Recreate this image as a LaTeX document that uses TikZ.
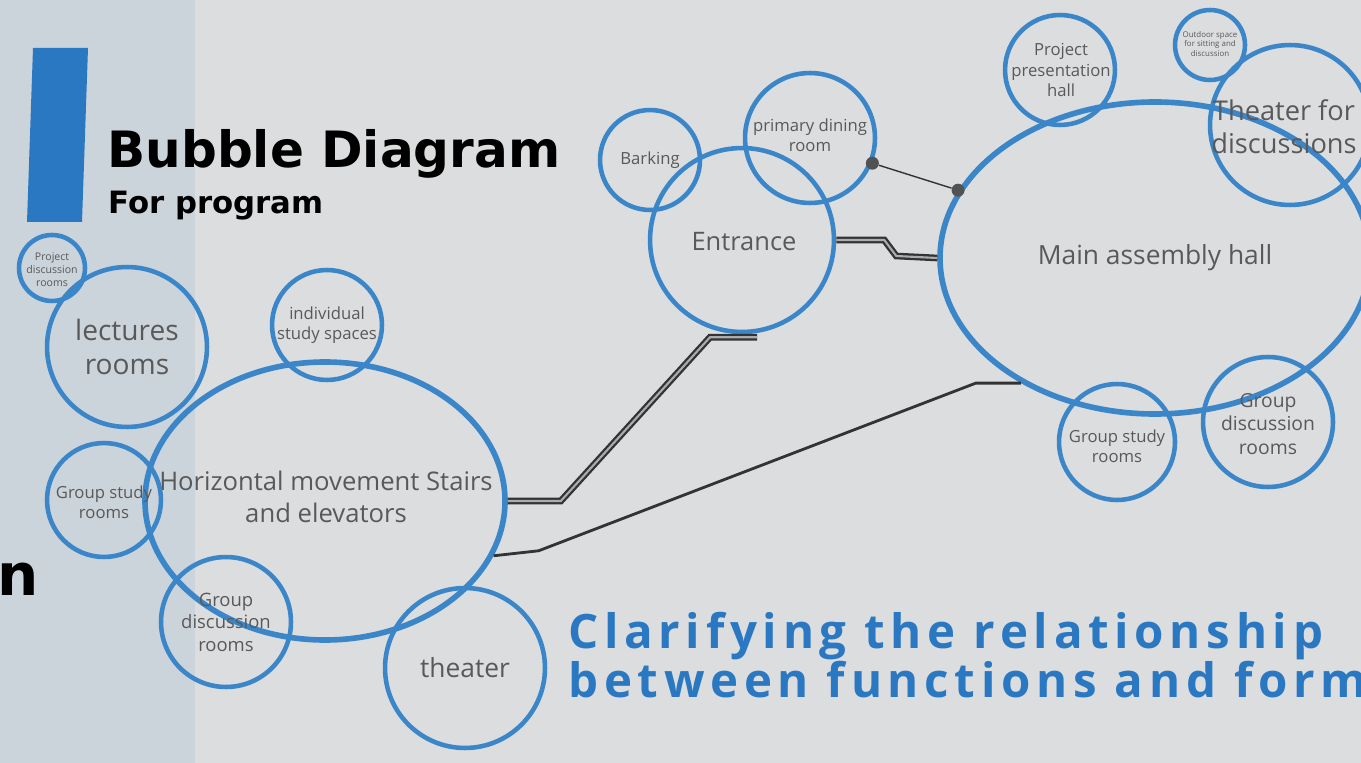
\documentclass[tikz,border=0pt]{standalone}
\usepackage{fontspec}
\setmainfont{Open Sans}
\newfontfamily\headfont{DejaVu Sans}
\newfontfamily\bluefont[LetterSpace=12]{Open Sans}
\usetikzlibrary{shapes.geometric, calc, arrows.meta}
\definecolor{bulleBleu}{HTML}{3A86C8}
\definecolor{titreBleu}{HTML}{2B78C2}
\definecolor{texteGris}{HTML}{595959}
\definecolor{fondGauche}{HTML}{CBD3DB}
\definecolor{fondDroit}{HTML}{DCDDDE}
\definecolor{traitGris}{HTML}{333333}

\begin{document}
\begin{tikzpicture}[x=0.02cm, y=-0.02cm, >=Stealth,
  bulle/.style={circle, draw=bulleBleu, line width=2.6pt, minimum size=#1*0.04cm, inner sep=0pt},
  ovale/.style={ellipse, draw=bulleBleu, line width=3.2pt, inner sep=0pt},
  etiq/.style={text=texteGris, align=center, inner sep=0pt,
    font=\fontsize{#1}{\fpeval{#1*1.22}}\selectfont},
  double trait/.style={draw=traitGris, line width=1.3pt, double=gray!65, double distance=1.2pt},
  point/.style={circle, fill=traitGris!85, inner sep=0pt, minimum size=0.26cm}]

  % === CADRE ===
  \useasboundingbox (0,0) rectangle (1361,763);
  \clip (0,0) rectangle (1361,763);
  \fill[fondGauche] (0,0) rectangle (195,763);
  \fill[fondDroit] (195,0) rectangle (1361,763);

  % === TITRE ===
  \fill[titreBleu] (33,48) -- (88,48) -- (82,222) -- (27,222) -- cycle;
  \node[anchor=base west, inner sep=0pt, font=\headfont\bfseries\fontsize{28.5}{28.5}\selectfont] (titre) at (107,168) {Bubble Diagram};
  \node[anchor=base west, inner sep=0pt, font=\headfont\bfseries\fontsize{17.5}{17.5}\selectfont] (soustitre) at (108,214) {For program};
  \node[anchor=base east, inner sep=0pt, font=\headfont\bfseries\fontsize{33}{33}\selectfont] (lettre) at (39,595) {n};

  % === GROUPE GAUCHE ===
  \node[ovale, minimum width=360*0.02cm, minimum height=278*0.02cm] (hm) at (325,501) {};
  \node[etiq=14.6] (hm-t) at (326,497) {Horizontal movement Stairs\\and elevators};
  \node[bulle=33] (pdr) at (52,268) {};
  \node[etiq=6] (pdr-t) at (52,270) {Project\\discussion\\rooms};
  \node[bulle=80] (lec) at (127,347) {};
  \node[etiq=16] (lec-t) at (127,347) {lectures\\rooms};
  \node[bulle=55] (isp) at (327,325) {};
  \node[etiq=9.5] (isp-t) at (327,325) {individual\\study spaces};
  \node[bulle=57] (gsl) at (104,500) {};
  \node[etiq=9.5] (gsl-t) at (104,502) {Group study\\rooms};
  \node[bulle=65] (gdl) at (226,622) {};
  \node[etiq=10.5] (gdl-t) at (226,622) {Group\\discussion\\rooms};
  \node[bulle=80] (the) at (465,668) {};
  \node[etiq=15] (the-t) at (465,668) {theater};

  % === GROUPE ENTREE ===
  \node[bulle=50] (bar) at (650,160) {};
  \node[etiq=9.5] (bar-t) at (650,160) {Barking};
  \node[bulle=65] (din) at (810,138) {};
  \node[etiq=9.5] (din-t) at (810,135) {primary dining\\room};
  \node[bulle=92] (ent) at (742,240) {};
  \node[etiq=14.5] (ent-t) at (744,242) {Entrance};

  % === GROUPE DROITE ===
  \node[ovale, minimum width=430*0.02cm, minimum height=312*0.02cm] (main) at (1155,258) {};
  \node[etiq=15] (main-t) at (1155,258) {Main assembly hall};
  \node[bulle=55] (pph) at (1060,70) {};
  \node[etiq=9.5] (pph-t) at (1061,70) {Project\\presentation\\hall};
  \node[bulle=35] (out) at (1210,45) {};
  \node[etiq=4.5] (out-t) at (1210,44) {Outdoor space\\for sitting and\\discussion};
  \node[bulle=80] (thd) at (1290,125) {};
  \node[etiq=15.5] (thd-t) at (1284,127) {Theater for\\discussions};
  \node[bulle=58] (gsr) at (1117,442) {};
  \node[etiq=9.5] (gsr-t) at (1117,446) {Group study\\rooms};
  \node[bulle=65] (gdr) at (1268,422) {};
  \node[etiq=11] (gdr-t) at (1268,424) {Group\\discussion\\rooms};

  % === LIAISONS ===
  \draw[double trait] (ent.east) -- ++(48,0) -- ++(12,16) -- (main.west);
  \draw[double trait] (hm.east) -- ++(53,0) -- ($(ent.south)+(-32,3)$) -- ($(ent.south)+(15,3)$);
  \draw[traitGris, line width=1.6pt] (hm.-18) -- ++(45,-5) -- ($(main.223)+(-45,0)$) -- (main.223);
  \node[point] (p1) at (din.-22) {};
  \node[point] (p2) at (main.161) {};
  \draw[traitGris, line width=0.8pt] (p1) -- (p2);

  % === SLOGAN ===
  \node[anchor=base west, inner sep=0pt, text=titreBleu, font=\bluefont\bfseries\fontsize{27}{27}\selectfont] (slogan1) at (568,648) {Clarifying the relationship};
  \node[anchor=base west, inner sep=0pt, text=titreBleu, font=\bluefont\bfseries\fontsize{27}{27}\selectfont] (slogan2) at (568,697) {between functions and form};

\end{tikzpicture}
\end{document}
